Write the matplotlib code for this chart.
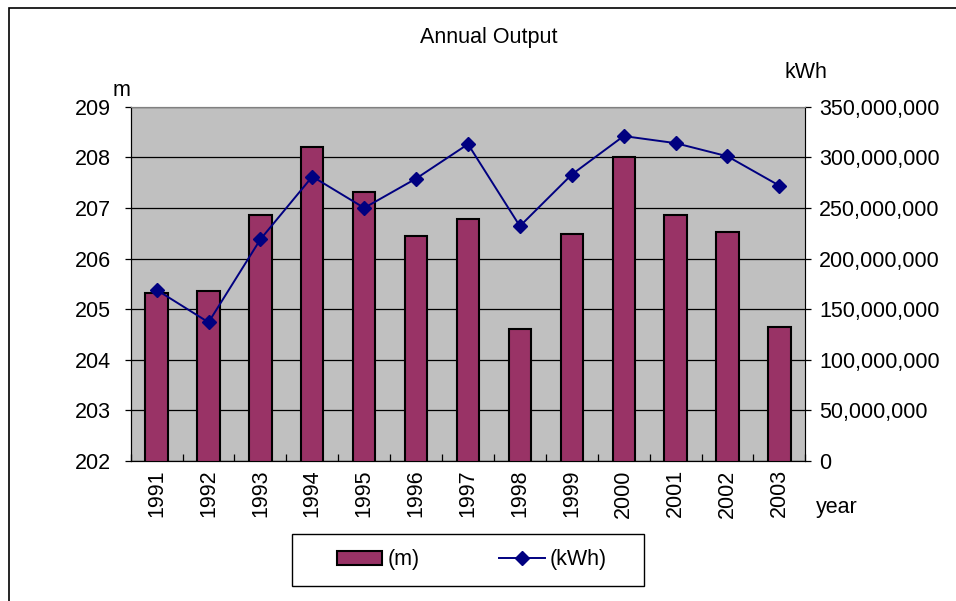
import numpy as np
import matplotlib.pyplot as plt
from matplotlib.patches import Rectangle
from matplotlib.ticker import FuncFormatter

# -----------------------------
# DATA
# -----------------------------

years = ["1991", "1992", "1993", "1994", "1995", "1996", "1997",
         "1998", "1999", "2000", "2001", "2002", "2003"]

level_m = [205.31, 205.35, 206.86, 208.20, 207.32, 206.45, 206.79,
           204.61, 206.48, 208.00, 206.86, 206.52, 204.64]

output_kwh = [169e6, 137e6, 219e6, 281e6, 250e6, 279e6, 313e6,
              232e6, 283e6, 321e6, 314e6, 301e6, 272e6]

left_ticks = [202, 203, 204, 205, 206, 207, 208, 209]
right_ticks = [0, 50e6, 100e6, 150e6, 200e6, 250e6, 300e6, 350e6]

# -----------------------------
# STYLE
# -----------------------------

plt.rcParams["font.family"] = ["Liberation Sans", "DejaVu Sans"]
FS = 15.5
BAR_COLOR = "#993366"
LINE_COLOR = "#000080"
PLOT_BG = "#C0C0C0"

fig = plt.figure(figsize=(9.56, 6.01), dpi=100)

# outer chart frame (only left/top edges show in the crop)
fig.patches.append(Rectangle((8.5 / 956, -0.1), 1.2, 1 - 8 / 601 + 0.1,
                             transform=fig.transFigure, fill=False,
                             edgecolor="black", linewidth=1.2))

ax = fig.add_axes([130.7 / 956, 1 - 461 / 601, 674.6 / 956, 354.3 / 601])
ax.set_facecolor(PLOT_BG)

x = np.arange(len(years))
bars = ax.bar(x, level_m, width=0.43, bottom=0, color=BAR_COLOR,
              edgecolor="black", linewidth=1.5, zorder=3, label="(m)")

ax.set_ylim(202, 209)
ax.set_xlim(-0.5, len(years) - 0.5)
ax.set_yticks(left_ticks)
ax.yaxis.grid(True, color="black", linewidth=0.9, zorder=1)
ax.set_axisbelow(True)

ax.set_xticks(x)
ax.set_xticklabels(years, rotation=90, fontsize=FS)
ax.tick_params(axis="x", length=0, pad=6)
ax.set_xticks(np.arange(-0.5, len(years), 1), minor=True)
ax.tick_params(axis="x", which="minor", direction="in", length=5, width=0.9)
ax.tick_params(axis="y", labelsize=FS, length=4, width=0.9, pad=10)

for side in ["top", "right"]:
    ax.spines[side].set_color("#808080")
ax.spines["left"].set_color("black")
ax.spines["bottom"].set_color("black")

ax2 = ax.twinx()
line, = ax2.plot(x, output_kwh, color=LINE_COLOR, linewidth=1.4,
                 marker="D", markersize=7.5, zorder=4, label="(kWh)")
ax2.set_ylim(0, 350e6)
ax2.set_yticks(right_ticks)
ax2.yaxis.set_major_formatter(FuncFormatter(lambda v, p: f"{int(v):,}"))
ax2.tick_params(axis="y", labelsize=FS, length=4, width=0.9, pad=6)
ax2.spines["right"].set_color("black")
ax2.spines["top"].set_color("#808080")

# -----------------------------
# TEXT
# -----------------------------

fig.text(489 / 956, 1 - 38 / 601, "Annual Output", ha="center", va="center", fontsize=FS)
fig.text(121 / 956, 1 - 90 / 601, "m", ha="center", va="center", fontsize=FS)
fig.text(806 / 956, 1 - 73 / 601, "kWh", ha="center", va="center", fontsize=FS)
fig.text(837 / 956, 1 - 508 / 601, "year", ha="center", va="center", fontsize=FS)

# legend box drawn separately so the entries can sit where they do in the original
fig.patches.append(Rectangle((292 / 956, 1 - 586 / 601), 352 / 956, 52 / 601,
                             transform=fig.transFigure, fill=False,
                             edgecolor="black", linewidth=1.0))
leg = fig.legend([bars, line], ["(m)", "(kWh)"],
                 bbox_to_anchor=(472 / 956, 1 - 560 / 601),
                 loc="center", ncol=2, fontsize=FS, frameon=False,
                 handlelength=2.1, handleheight=0.6, handletextpad=0.25,
                 columnspacing=3.7, borderaxespad=0, borderpad=0)

fig.savefig("out.png", dpi=100)
